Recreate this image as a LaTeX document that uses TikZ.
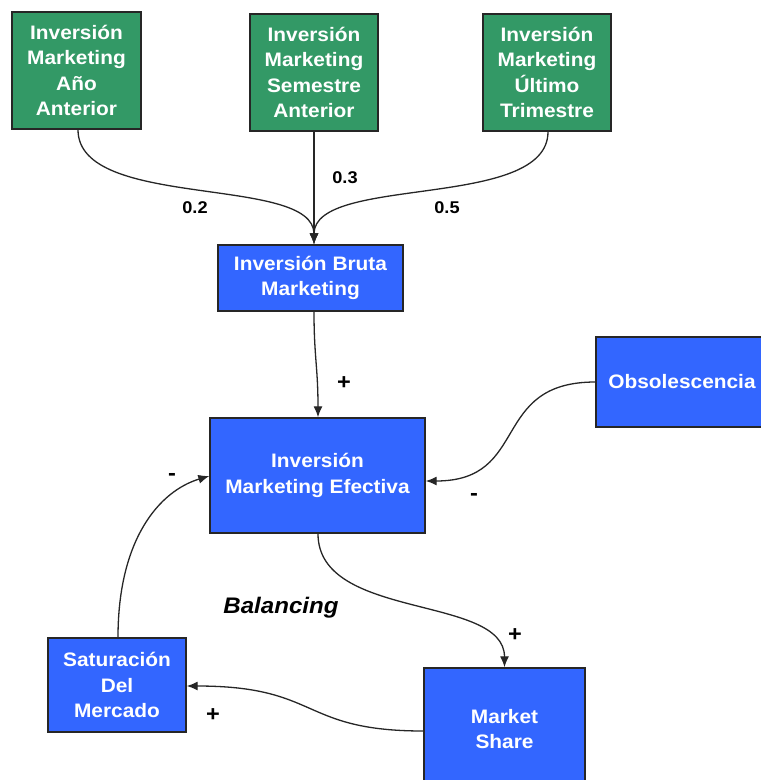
\documentclass[tikz,border=0pt]{standalone}
\usepackage{fontspec}
\setmainfont{Liberation Sans}
\newfontfamily\diagfont[FakeStretch=1.07]{Liberation Sans}
\usetikzlibrary{arrows.meta}
\definecolor{stockgreen}{RGB}{51,153,102}
\definecolor{varblue}{RGB}{51,102,255}
\begin{document}
\begin{tikzpicture}[x=1pt,y=-1pt,
  box/.style={draw=black!85,line width=1.4pt,rectangle,inner sep=0pt,
    text=white,align=center,
    font=\diagfont\bfseries\fontsize{19.5}{25.5}\selectfont},
  greenbox/.style={box,fill=stockgreen},
  bluebox/.style={box,fill=varblue},
  link/.style={draw=black!85,line width=1.3pt,-{Latex[length=11pt,width=9pt]}},
  weight/.style={font=\diagfont\bfseries\fontsize{17}{19}\selectfont},
  sign/.style={font=\diagfont\bfseries\fontsize{22}{24}\selectfont},
]
\useasboundingbox (0,0) rectangle (761,780);
\clip (0,0) rectangle (761,780);

% stocks of past marketing investment
\node[greenbox,minimum width=129pt,minimum height=117pt] (g1) at (76.5,70.5)
  {Inversión\\Marketing\\Año\\Anterior};
\node[greenbox,minimum width=128pt,minimum height=117pt] (g2) at (314,72.5)
  {Inversión\\Marketing\\Semestre\\Anterior};
\node[greenbox,minimum width=128pt,minimum height=117pt] (g3) at (547,72.5)
  {Inversión\\Marketing\\Último\\Trimestre};

% auxiliary variables
\node[bluebox,minimum width=185pt,minimum height=66pt] (ibm) at (310.5,278)
  {Inversión Bruta\\Marketing};
\node[bluebox,minimum width=215pt,minimum height=115pt] (ime) at (317.5,475.5)
  {Inversión\\Marketing Efectiva};
\node[bluebox,minimum width=172pt,minimum height=90pt] (obs) at (682,382)
  {Obsolescencia};
\node[bluebox,minimum width=138pt,minimum height=94pt] (sat) at (117,685)
  {Saturación\\Del\\Mercado};
\node[bluebox,minimum width=161pt,minimum height=122pt] (ms) at (504.5,729)
  {Market\\Share};

% weighted inflows to gross investment
\coordinate (ibmin) at ([xshift=3.5pt]ibm.north);
\draw[link] ([xshift=1.5pt]g1.south) .. controls +(0,81) and +(0,-70) .. (ibmin);
\draw[link] (g2.south) -- (ibmin);
\draw[link] ([xshift=1pt]g3.south) .. controls +(0,79) and +(0,-70) .. (ibmin);
\node[weight] (w1) at (195,208) {0.2};
\node[weight] (w2) at (345,178) {0.3};
\node[weight] (w3) at (447,208) {0.5};

% causal links of the loop
\draw[link] ([xshift=3.5pt]ibm.south) .. controls +(0,45) and +(0,-50) .. ([xshift=0.5pt]ime.north);
\node[sign] (s1) at (344,383) {+};

\draw[link] (obs.west) .. controls +(-106,0) and +(105,0) .. ([yshift=-5.5pt]ime.east);
\node[sign] (s2) at (474,497) {-};

\draw[link] ([xshift=0.5pt]ime.south) .. controls +(0,87) and +(0,-73) .. (ms.north);
\node[sign] (s3) at (515,635) {+};

\draw[link] ([yshift=-2pt]ms.west) .. controls +(-124,0) and +(134,0) .. ([yshift=-1pt]sat.east);
\node[sign] (s4) at (213,715) {+};

\draw[link] ([xshift=1pt]sat.north) .. controls +(0,-98) and +(-50,15) .. ([yshift=-0.5pt]ime.west);
\node[sign] (s5) at (172,477) {-};

\node[font=\diagfont\bfseries\itshape\fontsize{22.5}{24}\selectfont] (loop) at (281,608) {Balancing};
\end{tikzpicture}
\end{document}
